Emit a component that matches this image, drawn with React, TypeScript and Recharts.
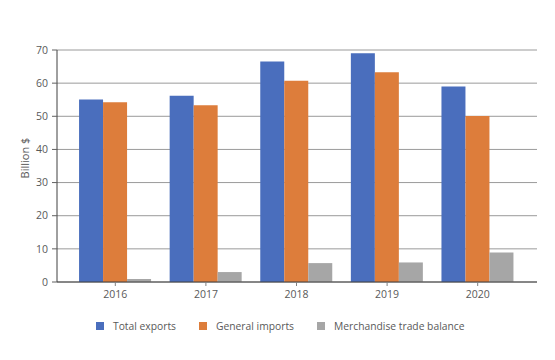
import { BarChart, Bar, XAxis, YAxis, CartesianGrid, Legend } from 'recharts';

const years = ['2016', '2017', '2018', '2019', '2020'];
const totalExports = [55.1, 56.2, 66.5, 69.0, 59.0];
const generalImports = [54.2, 53.3, 60.7, 63.3, 50.1];
const tradeBalance = [0.9, 3.0, 5.7, 5.9, 8.9];
const yTicks = [0, 10, 20, 30, 40, 50, 60, 70];

const SERIES = [
  { key: 'exports', name: 'Total exports', color: '#4A6EBD' },
  { key: 'imports', name: 'General imports', color: '#DD7D3B' },
  { key: 'balance', name: 'Merchandise trade balance', color: '#A6A6A6' }
];

const FONT = 'Open Sans, Lato, sans-serif';
const TEXT = '#595959';

const chartData = years.map((year, i) => ({
  year,
  exports: totalExports[i],
  imports: generalImports[i],
  balance: tradeBalance[i]
}));

const LegendRow = () => (
  <div style={{ display: 'flex', justifyContent: 'flex-start', height: 28, alignItems: 'center', fontFamily: FONT, fontSize: 10.3, color: TEXT, paddingLeft: 96 }}>
    {SERIES.map((s) => (
      <div key={s.key} style={{ display: 'flex', alignItems: 'center', marginRight: 23 }}>
        <span style={{ width: 8, height: 8, background: s.color, display: 'inline-block', marginRight: 9 }} />
        <span>{s.name}</span>
      </div>
    ))}
  </div>
);

const YLabel = ({ viewBox }: any) => {
  const cx = 24;
  const cy = viewBox.y + viewBox.height / 2 - 8;
  return (
    <text x={cx} y={cy} transform={`rotate(-90 ${cx} ${cy})`} textAnchor="middle" dominantBaseline="central" fill={TEXT} fontSize={11} fontFamily={FONT}>
      Billion $
    </text>
  );
};

const App = () => {
  return (
    <div style={{ margin: -8, width: 555, height: 360, background: '#fff' }}>
      <BarChart
        width={555}
        height={360}
        data={chartData}
        margin={{ top: 50, right: 18, left: 0, bottom: 20 }}
        barGap={0}
        barCategoryGap="10%"
      >
        <CartesianGrid vertical={false} stroke="#9a9a9a" />
        <XAxis
          dataKey="year"
          height={30}
          padding={{ left: 13, right: 14 }}
          axisLine={{ stroke: '#404040' }}
          tickLine={{ stroke: '#808080' }}
          tickSize={4}
          tickMargin={5}
          tick={{ fill: TEXT, fontSize: 10.5, fontFamily: FONT }}
        />
        <YAxis
          width={57}
          domain={[0, 70]}
          ticks={yTicks}
          interval={0}
          axisLine={{ stroke: '#404040' }}
          tickLine={{ stroke: '#606060' }}
          tickSize={5}
          tickMargin={4}
          tick={{ fill: TEXT, fontSize: 10.5, fontFamily: FONT }}
          label={<YLabel />}
        />
        <Legend verticalAlign="bottom" height={28} content={() => <LegendRow />} />
        {SERIES.map((s) => (
          <Bar key={s.key} dataKey={s.key} name={s.name} fill={s.color} isAnimationActive={false} />
        ))}
      </BarChart>
    </div>
  );
};

export default App;
